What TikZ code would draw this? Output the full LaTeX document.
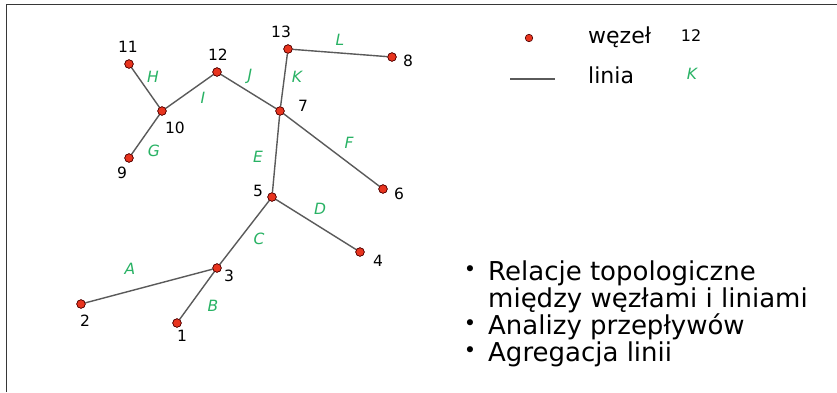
\documentclass[tikz,border=0pt]{standalone}
\usepackage{fontspec}
\setmainfont{DejaVu Sans}
\definecolor{dotred}{RGB}{232,52,30}
\definecolor{lblgreen}{RGB}{40,178,100}
\definecolor{edgegray}{RGB}{90,90,90}
\definecolor{framegray}{RGB}{55,55,55}
\begin{document}
\begin{tikzpicture}[x=1pt,y=-1pt,
  pt/.style={circle,fill=dotred,draw=black!70!red,line width=0.6pt,inner sep=0pt,minimum size=8.5pt},
  edge/.style={draw=edgegray,line width=1.4pt},
  num/.style={font=\fontsize{15.5}{15.5}\selectfont,text=black,inner sep=0pt},
  let/.style={font=\fontsize{15.5}{15.5}\selectfont\itshape,text=lblgreen,inner sep=0pt},
  big/.style={font=\fontsize{26}{26}\selectfont,inner sep=0pt,anchor=base west},
  bul/.style={font=\fontsize{21}{21}\selectfont,inner sep=0pt,anchor=base},
  leg/.style={font=\fontsize{22}{22}\selectfont,inner sep=0pt}]
\useasboundingbox (0,0) rectangle (837,392);
\fill[white] (0,0) rectangle (837,392);
\draw[framegray,line width=1.8pt] (6.5,392) -- (6.5,4.5) -- (837,4.5);
% nodes
\node[pt] (n1) at (177,323) {};
\node[pt] (n2) at (81,304) {};
\node[pt] (n3) at (217,268) {};
\node[pt] (n4) at (360,252) {};
\node[pt] (n5) at (272,197) {};
\node[pt] (n6) at (383,189) {};
\node[pt] (n7) at (280,111) {};
\node[pt] (n8) at (392,57) {};
\node[pt] (n9) at (129,158) {};
\node[pt] (n10) at (162,111) {};
\node[pt] (n11) at (129,64) {};
\node[pt] (n12) at (217,72) {};
\node[pt] (n13) at (288,49) {};
% edges
\draw[edge] (n2) -- (n3);
\draw[edge] (n1) -- (n3);
\draw[edge] (n3) -- (n5);
\draw[edge] (n5) -- (n4);
\draw[edge] (n5) -- (n7);
\draw[edge] (n7) -- (n6);
\draw[edge] (n9) -- (n10);
\draw[edge] (n11) -- (n10);
\draw[edge] (n10) -- (n12);
\draw[edge] (n12) -- (n7);
\draw[edge] (n7) -- (n13);
\draw[edge] (n13) -- (n8);
% redraw dots on top
\foreach \n in {n1,n2,n3,n4,n5,n6,n7,n8,n9,n10,n11,n12,n13}
  \fill[dotred,draw=black!70!red,line width=0.6pt] (\n) circle (4.25pt);
% number labels
\node[num] (t1) at (182,336) {1};
\node[num] (t2) at (85,321) {2};
\node[num] (t3) at (229,276) {3};
\node[num] (t4) at (378,261) {4};
\node[num] (t5) at (258,191) {5};
\node[num] (t6) at (399,194) {6};
\node[num] (t7) at (303,106) {7};
\node[num] (t8) at (408,61) {8};
\node[num] (t9) at (122,173) {9};
\node[num] (t10) at (175,128) {10};
\node[num] (t11) at (128,47) {11};
\node[num] (t12) at (218,55) {12};
\node[num] (t13) at (281,32) {13};
% line labels
\node[let] (lA) at (130,269) {A};
\node[let] (lB) at (213,306) {B};
\node[let] (lC) at (259,239) {C};
\node[let] (lD) at (320,209) {D};
\node[let] (lE) at (258,157) {E};
\node[let] (lF) at (349,143) {F};
\node[let] (lG) at (154,151) {G};
\node[let] (lH) at (153,77) {H};
\node[let] (lI) at (203,98) {I};
\node[let] (lJ) at (250,76) {J};
\node[let] (lK) at (297,77) {K};
\node[let] (lL) at (340,40) {L};
% legend
\node[pt,minimum size=7.5pt] (ld) at (529,38) {};
\node[leg,anchor=west] (lw) at (588,37) {węzeł};
\node[font=\fontsize{16}{16}\selectfont,inner sep=0pt] (l12) at (691,36) {12};
\coordinate (la) at (510,79);
\coordinate (lb) at (555,79);
\draw[edgegray,line width=1.2pt] (la) -- (lb);
\node[leg,anchor=west] (ll) at (588,75) {linia};
\node[let] (lk) at (692,74) {K};
% bullets
\node[bul] (b1) at (470,276) {•};
\node[big] (r1) at (488,280) {Relacje topologiczne};
\node[big] (r2) at (488,307) {między węzłami i liniami};
\node[bul] (b2) at (470,330) {•};
\node[big] (r3) at (488,334) {Analizy przepływów};
\node[bul] (b3) at (470,357) {•};
\node[big] (r4) at (488,361) {Agregacja linii};
\end{tikzpicture}
\end{document}
